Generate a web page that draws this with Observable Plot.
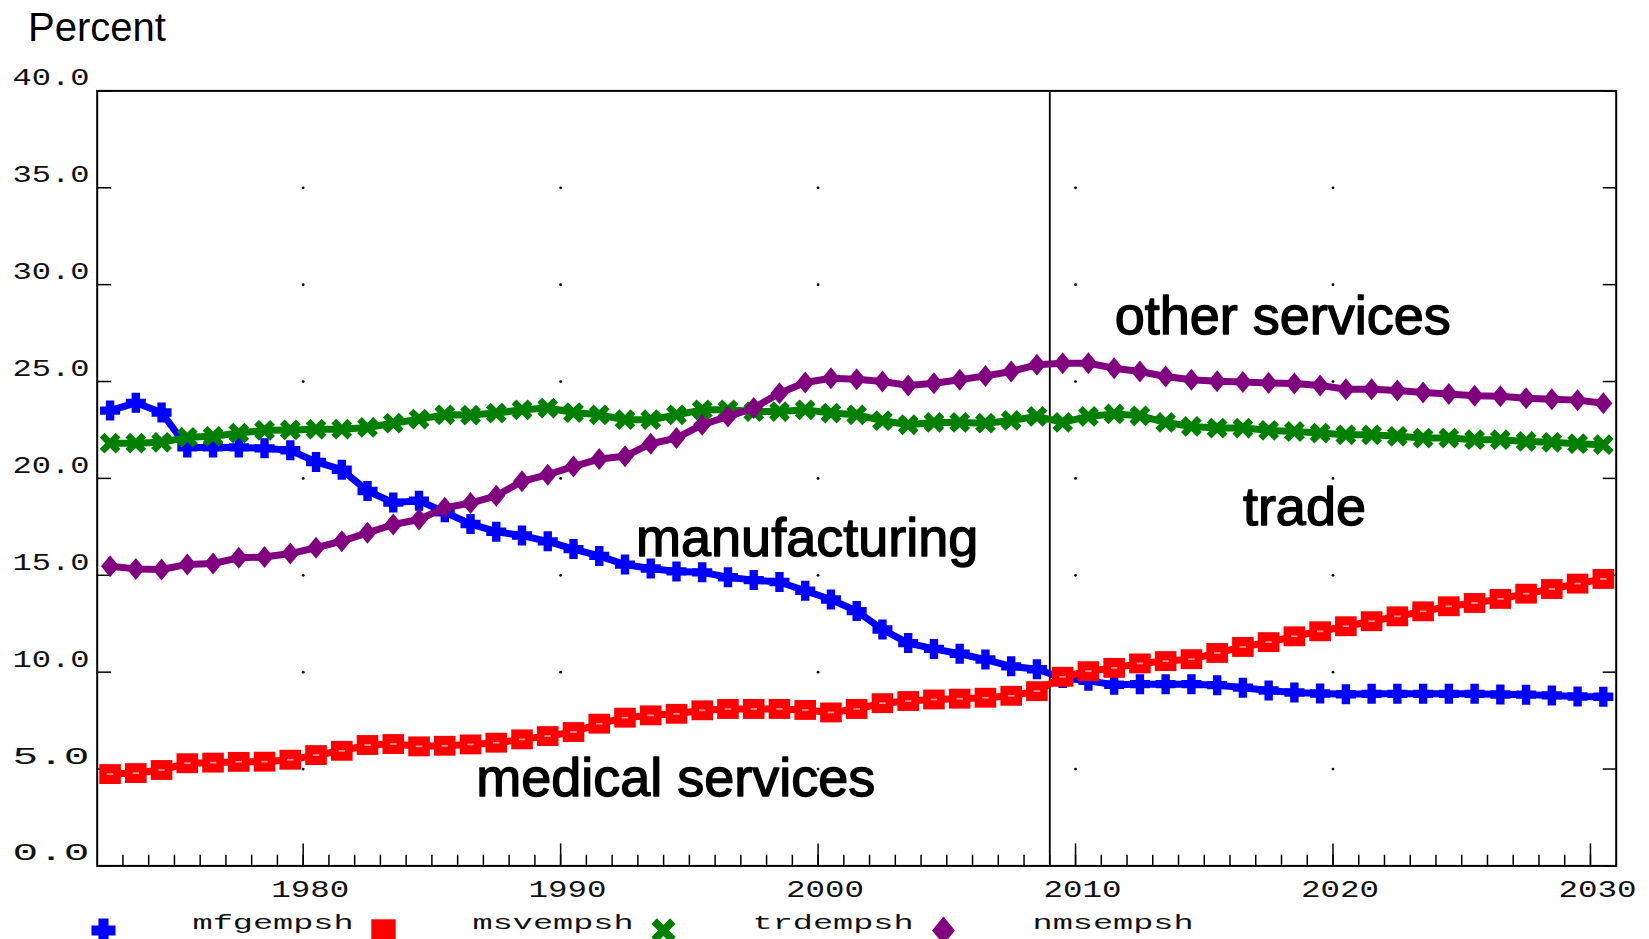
<!DOCTYPE html>
<html>
<head>
<meta charset="utf-8">
<script src="https://cdn.jsdelivr.net/npm/d3@7"></script>
<script src="https://cdn.jsdelivr.net/npm/@observablehq/plot@0.6"></script>
<style>
html, body { margin: 0; padding: 0; background: #fff; }
#chart svg, #legend svg { display: block; }
</style>
</head>
<body>
<div id="chart"></div>
<div id="legend"></div>
<script>
// ---------- DATA ----------
const years = d3.range(1972, 2031);
const mfgempsh = [23.5, 23.9, 23.4, 21.6, 21.6, 21.6, 21.55, 21.45, 20.85, 20.45,
  19.35, 18.75, 18.85, 18.25, 17.65, 17.25, 17.05, 16.75, 16.35, 16.0,
  15.55, 15.35, 15.2, 15.15, 14.9, 14.75, 14.65, 14.2, 13.75, 13.15,
  12.2, 11.5, 11.2, 10.95, 10.65, 10.3, 10.15, 9.7, 9.55, 9.35,
  9.38, 9.38, 9.38, 9.33, 9.2, 9.05, 8.95, 8.9, 8.86, 8.88,
  8.88, 8.88, 8.88, 8.88, 8.85, 8.84, 8.8, 8.74, 8.73];
const msvempsh = [4.74, 4.79, 4.95, 5.3, 5.33, 5.37, 5.38, 5.48, 5.72, 5.94,
  6.24, 6.29, 6.17, 6.2, 6.27, 6.36, 6.53, 6.7, 6.91, 7.34,
  7.65, 7.77, 7.85, 8.03, 8.1, 8.1, 8.1, 8.05, 7.92, 8.1,
  8.4, 8.51, 8.59, 8.63, 8.68, 8.78, 9.02, 9.76, 10.05, 10.22,
  10.45, 10.57, 10.67, 10.99, 11.3, 11.55, 11.85, 12.11, 12.37, 12.63,
  12.88, 13.14, 13.4, 13.57, 13.78, 14.05, 14.29, 14.57, 14.81];
const trdempsh = [21.82, 21.82, 21.86, 22.12, 22.17, 22.34, 22.48, 22.5, 22.54, 22.54,
  22.63, 22.85, 23.06, 23.28, 23.27, 23.37, 23.54, 23.63, 23.4, 23.28,
  23.03, 23.03, 23.28, 23.54, 23.54, 23.45, 23.45, 23.54, 23.37, 23.28,
  22.98, 22.77, 22.89, 22.89, 22.85, 22.99, 23.2, 22.89, 23.2, 23.33,
  23.23, 22.89, 22.68, 22.6, 22.6, 22.48, 22.42, 22.34, 22.25, 22.25,
  22.17, 22.08, 22.08, 22.0, 22.0, 21.91, 21.86, 21.79, 21.74];
const nmsempsh = [15.47, 15.33, 15.3, 15.56, 15.61, 15.9, 15.94, 16.12, 16.42, 16.76,
  17.19, 17.62, 17.88, 18.48, 18.73, 19.1, 19.85, 20.19, 20.62, 21.0,
  21.14, 21.79, 22.08, 22.77, 23.2, 23.63, 24.4, 24.95, 25.17, 25.12,
  25.0, 24.8, 24.91, 25.09, 25.29, 25.52, 25.86, 25.94, 25.94, 25.69,
  25.52, 25.26, 25.09, 25.02, 24.98, 24.93, 24.9, 24.8, 24.6, 24.6,
  24.54, 24.43, 24.36, 24.26, 24.24, 24.14, 24.09, 24.04, 23.88];

const seriesNames = ["mfgempsh", "msvempsh", "trdempsh", "nmsempsh"];
const seriesColors = ["#0000ff", "#ff0000", "#008000", "#800080"];

const yTicks = [0, 5, 10, 15, 20, 25, 30, 35, 40];
const gridY = [5, 10, 15, 20, 25, 30, 35];
const decadeTicks = [1980, 1990, 2000, 2010, 2020, 2030];
const gridX = [1980, 1990, 2000, 2010, 2020];
const minorTicks = d3.range(1973, 2031);
const forecastStart = [2009];

const annotLabels = ["other services", "trade", "manufacturing", "medical services"];
const annotX = [2011.52, 2016.5, 1992.93, 1986.72];
const annotY = [27.46, 17.59, 15.99, 3.63];

// ---------- SYMBOLS ----------
function sym(fn) { return { draw(ctx, size) { fn(ctx, Math.sqrt(size / Math.PI)); } }; }
function poly(ctx, pts) {
  ctx.moveTo(pts[0][0], pts[0][1]);
  for (let i = 1; i < pts.length; i++) ctx.lineTo(pts[i][0], pts[i][1]);
  ctx.closePath();
}
function crossPts(a, t) {
  return [[-t,-a],[t,-a],[t,-t],[a,-t],[a,t],[t,t],[t,a],[-t,a],[-t,t],[-a,t],[-a,-t],[-t,-t]];
}
const plusSym = sym((c, r) => poly(c, crossPts(r, 0.42 * r)));
const timesSym = sym((c, r) => {
  const k = Math.SQRT1_2;
  poly(c, crossPts(1.35 * r, 0.4 * r).map(([x, y]) => [(x - y) * k, (x + y) * k]));
});
const squareSym = sym((c, r) => poly(c, [[-r, -0.92 * r], [r, -0.92 * r], [r, 0.92 * r], [-r, 0.92 * r]]));
const dashSym = sym((c, r) => poly(c, [[-0.3 * r, -0.08 * r], [0.3 * r, -0.08 * r], [0.3 * r, 0.08 * r], [-0.3 * r, 0.08 * r]]));
const diamondSym = sym((c, r) => poly(c, [[0, -r], [0.82 * r, 0], [0, r], [-0.82 * r, 0]]));

const seriesSymbols = [plusSym, squareSym, timesSym, diamondSym];
const seriesR = [10, 10.8, 8.4, 11];
const legendR = [12, 12.2, 9.8, 14];

const rows = years.map((yr, i) => ({
  t: yr + 0.5,
  mfgempsh: mfgempsh[i], msvempsh: msvempsh[i], trdempsh: trdempsh[i], nmsempsh: nmsempsh[i]
}));

// ---------- LAYOUT ----------
const W = 1649, H = 906;
const mL = 96.7, mR = W - 1615.7, mT = 90.4, mB = H - 865.4;
const frameW = W - mL - mR, frameH = H - mT - mB;

const gridPts = gridX.flatMap(x => gridY.map(y => ({ x, y })));

const seriesMarks = seriesNames.flatMap((name, k) => {
  const marks = [
    Plot.line(rows, { x: "t", y: name, stroke: seriesColors[k], strokeWidth: 7, curve: "linear" }),
    Plot.dot(rows, { x: "t", y: name, symbol: seriesSymbols[k], r: seriesR[k], fill: seriesColors[k], stroke: "none" })
  ];
  if (name === "msvempsh") {
    marks.push(Plot.dot(rows, { x: "t", y: name, symbol: dashSym, r: seriesR[k], fill: "#ff9a9a", stroke: "none" }));
  }
  return marks;
});

const annots = annotLabels.map((label, i) => ({ label, x: annotX[i], y: annotY[i] }));

const chart = Plot.plot({
  width: W, height: H,
  marginLeft: mL, marginRight: mR, marginTop: mT, marginBottom: mB,
  x: { domain: [1972, 2031], axis: null },
  y: { domain: [0, 40], axis: null },
  style: { background: "#fff" },
  marks: [
    Plot.dot(gridPts, { x: "x", y: "y", r: 1.4, fill: "black", stroke: "none" }),
    Plot.tickX(minorTicks, { x: d => d, stroke: "black", strokeWidth: 1.5, insetTop: frameH - 10.7 }),
    Plot.tickX(decadeTicks, { x: d => d, stroke: "black", strokeWidth: 1.5, insetTop: frameH - 22 }),
    Plot.tickY(yTicks, { y: d => d, stroke: "black", strokeWidth: 1.5, insetRight: frameW - 14.5 }),
    Plot.tickY(yTicks, { y: d => d, stroke: "black", strokeWidth: 1.5, insetLeft: frameW - 13 }),
    Plot.ruleX(forecastStart, { x: d => d, stroke: "black", strokeWidth: 1.8 }),
    ...seriesMarks,
    Plot.frame({ stroke: "black", strokeWidth: 2 }),
    Plot.text(annots, {
      x: "x", y: "y", text: "label", textAnchor: "start", lineAnchor: "bottom",
      fontFamily: "Liberation Sans, Arial, sans-serif", fontSize: 54, fill: "black",
      stroke: "black", strokeWidth: 1.4
    }),
    Plot.text(yTicks, {
      y: d => d, text: d => d.toFixed(1), frameAnchor: "left", dx: 12 - mL, dy: -5.5,
      textAnchor: "start", lineAnchor: "bottom", fontFamily: "Liberation Mono, monospace",
      fontSize: 24, fill: "#111"
    }),
    Plot.text(decadeTicks, {
      x: d => d, text: d => String(d), frameAnchor: "bottom", dx: 7, dy: 31.3,
      textAnchor: "middle", lineAnchor: "bottom", fontFamily: "Liberation Mono, monospace",
      fontSize: 24, fill: "#111"
    }),
    Plot.text(["Percent"], {
      frameAnchor: "top-left", dx: 27.5 - mL, dy: 40 - mT, textAnchor: "start", lineAnchor: "bottom",
      fontFamily: "Liberation Sans, Arial, sans-serif", fontSize: 40, fill: "black"
    })
  ]
});

d3.select(chart).selectAll("text").each(function () {
  const s = this.textContent;
  if (/^\d+\.\d$/.test(s)) d3.select(this).attr("textLength", 77).attr("lengthAdjust", "spacingAndGlyphs");
  else if (/^\d{4}$/.test(s)) d3.select(this).attr("textLength", 78).attr("lengthAdjust", "spacingAndGlyphs");
});
document.getElementById("chart").appendChild(chart);

// ---------- LEGEND ----------
const legendItems = seriesNames.map((name, k) => ({ name, k }));
const legend = Plot.plot({
  width: W, height: 939 - H, margin: 0,
  x: { type: "point", domain: seriesNames, range: [103, 943], padding: 0, axis: null },
  marks: [
    ...legendItems.map(it => Plot.dot([it], {
      x: "name", symbol: seriesSymbols[it.k], r: legendR[it.k], fill: seriesColors[it.k], stroke: "none", dy: 7.5
    })),
    Plot.text(legendItems, {
      x: "name", text: "name", dx: 89, dy: 5.5, textAnchor: "start", lineAnchor: "bottom",
      fontFamily: "Liberation Mono, monospace", fontSize: 20, fill: "#111"
    })
  ]
});
d3.select(legend).selectAll("text").attr("textLength", 161).attr("lengthAdjust", "spacingAndGlyphs");
document.getElementById("legend").appendChild(legend);
</script>
</body>
</html>
